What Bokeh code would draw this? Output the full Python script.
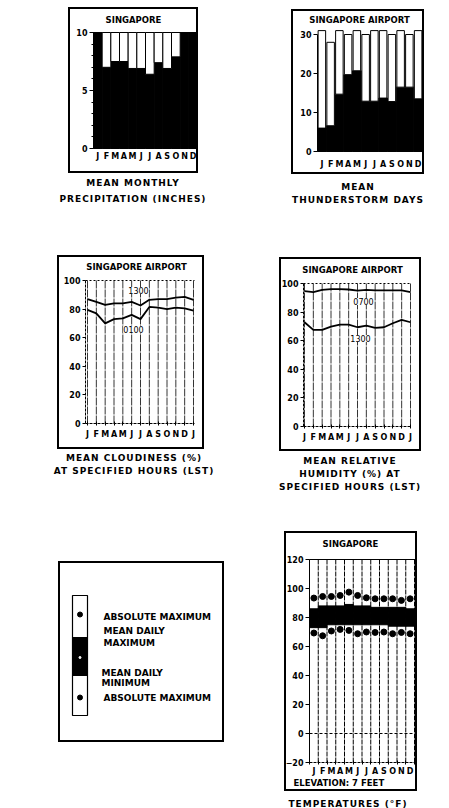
from bokeh.plotting import figure
from bokeh.layouts import row, column
from bokeh.models import Range1d, FixedTicker, Label, Div, Spacer
from bokeh.core.properties import value
from bokeh.embed import file_html
from bokeh.resources import INLINE

# ---------------- data ----------------
months = ["J", "F", "M", "A", "M", "J", "J", "A", "S", "O", "N", "D"]
months_13 = months + ["J"]

precip_in = [10.0, 7.0, 7.5, 7.5, 6.9, 6.9, 6.4, 7.4, 6.9, 7.9, 10.0, 10.0]
precip_scale = [0, 10]
precip_ticks = [0, 5, 10]
precip_minor = [0, 1, 2, 3, 4, 5, 6, 7, 8, 9, 10]

thunder_days = [6, 6.6, 14.7, 19.7, 20.7, 12.9, 12.9, 13.7, 12.8, 16.5, 16.5, 13.5]
days_in_month = [31, 28, 31, 30, 31, 30, 31, 31, 30, 31, 30, 31]
thunder_ticks = [0, 10, 20, 30]

cloud_1300 = [87, 85, 83, 84, 84, 85, 82.5, 86.5, 87, 87, 88, 88.5, 86.5]
cloud_0100 = [79.5, 77, 70, 73, 73.5, 76, 73, 81.5, 81, 80, 81, 80.5, 79]

rh_0700 = [94.6, 94, 95.6, 96, 96, 95.8, 95, 95.6, 95.2, 95.2, 95.2, 95.2, 94]
rh_1300 = [72.9, 67.6, 67.6, 69.9, 71.3, 71.3, 69.4, 70.5, 69, 69.4, 72.2, 74.6, 72.9]
pct_scale = [0, 100]
pct_ticks = [0, 20, 40, 60, 80, 100]

t_abs_max = [93.4, 94.5, 94.5, 95.2, 97.5, 95.2, 93.6, 92.9, 92.9, 92.9, 91.8, 92.9]
t_mean_max = [86, 88, 88, 88, 89, 88, 88, 87, 87, 87, 87, 86]
t_mean_min = [73, 73, 75, 75, 75, 75, 75, 75, 75, 74, 74, 74]
t_abs_min = [69.3, 67.4, 70.7, 71.8, 71.1, 68.8, 70, 69.7, 70, 68.8, 69.7, 68.8]
temp_scale = [-20, 120]
temp_ticks = [-20, 0, 20, 40, 60, 80, 100, 120]

legend_texts = ["ABSOLUTE MAXIMUM", "MEAN DAILY", "MAXIMUM", "MEAN DAILY", "MINIMUM", "ABSOLUTE MAXIMUM"]

# ---------------- helpers ----------------
FONT = "DejaVu Sans"


class Map:
    """linear map between canvas pixels of a panel box and its data values"""

    def __init__(self, sa, va, sb, vb):
        self.k = (vb - va) / (sb - sa)
        self.sa, self.va = sa, va

    def __call__(self, s):
        return self.va + (s - self.sa) * self.k


def box_fig(w, h, mx, my):
    p = figure(width=w, height=h, x_range=Range1d(mx(0), mx(w)), y_range=Range1d(my(h), my(0)),
               output_backend="svg", toolbar_location=None,
               min_border_left=0, min_border_right=0, min_border_top=0, min_border_bottom=0)
    try:
        p.frame_align = False
    except Exception:
        pass
    p.outline_line_color = "black"
    p.outline_line_width = 3
    p.outline_line_alpha = 1
    p.background_fill_color = "white"
    p.border_fill_color = "white"
    p.xgrid.visible = False
    p.ygrid.visible = False
    for ax in (p.xaxis[0], p.yaxis[0]):
        ax.major_label_text_font = FONT
        ax.major_label_text_font_style = "bold"
        ax.major_label_text_font_size = "8px"
        ax.major_label_text_color = "black"
        ax.axis_line_color = "black"
        ax.major_tick_line_color = "black"
        ax.minor_tick_line_color = "black"
        ax.major_tick_in = 0
        ax.minor_tick_in = 0
        ax.minor_tick_out = 0
    return p


def set_yaxis(p, at, ticks, bounds, tick_out, minor=None):
    ax = p.yaxis[0]
    ax.fixed_location = at
    ax.ticker = FixedTicker(ticks=ticks, minor_ticks=minor or [])
    ax.bounds = tuple(bounds)
    ax.major_tick_out = tick_out
    ax.minor_tick_out = 2 if minor else 0
    ax.major_label_standoff = 2


def set_xaxis(p, at, ticks, labels, standoff, bounds, tick=0, minor=None):
    ax = p.xaxis[0]
    ax.fixed_location = at
    ax.ticker = FixedTicker(ticks=ticks, minor_ticks=minor or [])
    ax.major_label_overrides = {t: m for t, m in zip(ticks, labels)}
    ax.major_label_standoff = standoff
    ax.major_tick_in = tick
    ax.major_tick_out = tick
    ax.bounds = tuple(bounds)


def text_label(p, x, y, text, size="8.5px", bold=True, align="center", bg=None):
    p.add_layout(Label(x=x, y=y, text=text, text_align=align, text_baseline="middle",
                       text_font=FONT, text_font_size=size,
                       text_font_style="bold" if bold else "normal",
                       text_color="black", background_fill_color=bg))


def caption(lines, width, lh):
    html = ('<div style="width:%dpx;font-family:\'DejaVu Sans\';font-size:9px;font-weight:bold;'
            'letter-spacing:1px;line-height:%dpx;text-align:center;color:black;'
            'white-space:nowrap;">%s</div>' % (width, lh, "<br>".join(lines)))
    return Div(text=html, width=width, height=lh * len(lines), margin=0)


def sp(w, h):
    return Spacer(width=w, height=h, margin=0)


x12 = list(range(1, 13))
x13 = list(range(0, 13))

# ---------------- 1. precipitation (box 130x166) ----------------
mx1, my1 = Map(25, 0.5, 129, 12.5), Map(25, precip_scale[1], 141, precip_scale[0])
p1 = box_fig(130, 166, mx1, my1)
p1.vbar(x=x12, top=precip_in, bottom=precip_scale[0], width=1, fill_color="black", line_color="black")
p1.vbar(x=x12, top=[precip_scale[1]] * 12, bottom=precip_in, width=1,
        fill_color="white", line_color="black", line_width=1)
set_yaxis(p1, 0.5, precip_ticks, precip_scale, 4, precip_minor)
set_xaxis(p1, precip_scale[0], x12, months, 3, (0.5, 12.5))
p1.xaxis[0].axis_line_color = None
text_label(p1, mx1(65), my1(12), "SINGAPORE")

# ---------------- 2. thunderstorm days (box 133x165) ----------------
mx2, my2 = Map(26, 0.5, 131, 12.5), Map(25, 30, 142, 0)
p2 = box_fig(133, 165, mx2, my2)
p2.vbar(x=x12, top=thunder_days, bottom=0, width=1, fill_color="black", line_color="black")
p2.vbar(x=x12, top=days_in_month, bottom=thunder_days, width=0.86,
        fill_color="white", line_color="black", line_width=1)
set_yaxis(p2, 0.5, thunder_ticks, (thunder_ticks[0], thunder_ticks[-1]), 4)
set_xaxis(p2, 0, x12, months, 8, (0.5, 12.5))
p2.xaxis[0].axis_line_color = None
text_label(p2, mx2(68), my2(10), "SINGAPORE AIRPORT")


# ---------------- 3./4. percentage line charts ----------------
def pct_fig(w, h, mx, my, ax_sx, right_sx):
    p = box_fig(w, h, mx, my)
    x_lo, x_hi = mx(ax_sx), mx(right_sx)
    p.segment(x0=x13, y0=[pct_scale[0]] * 13, x1=x13, y1=[pct_scale[1]] * 13,
              line_color="black", line_width=0.8, line_dash="8 1")
    p.segment(x0=[x_lo], y0=[pct_scale[1]], x1=[x_hi], y1=[pct_scale[1]],
              line_color="black", line_dash="2 2", line_width=1)
    set_yaxis(p, x_lo, pct_ticks, pct_scale, 3)
    p.yaxis[0].axis_line_dash = "3 1"
    set_xaxis(p, pct_scale[0], x13, months_13, 4, (x_lo, x_hi), tick=2)
    p.xaxis[0].axis_line_dash = "3 1"
    return p


mx3, my3 = Map(30, 0, 136, 12), Map(25, 100, 168, 0)
p3 = pct_fig(147, 194, mx3, my3, 28, 137)
p3.line(x13, cloud_1300, line_color="black", line_width=1.8)
p3.line(x13, cloud_0100, line_color="black", line_width=1.8)
text_label(p3, mx3(81), my3(35), "1300", "8px", False, bg="white")
text_label(p3, mx3(76), my3(74), "0100", "8px", False, bg="white")
text_label(p3, mx3(79), my3(11), "SINGAPORE AIRPORT")

mx4, my4 = Map(25, 0, 131, 12), Map(26, 100, 169, 0)
p4 = pct_fig(142, 194, mx4, my4, 24, 132)
p4.line(x13, rh_0700, line_color="black", line_width=1.8)
p4.line(x13, rh_1300, line_color="black", line_width=1.8)
text_label(p4, mx4(84), my4(44), "0700", "8px", False, bg="white")
text_label(p4, mx4(81), my4(81), "1300", "8px", False, bg="white")
text_label(p4, mx4(73), my4(12), "SINGAPORE AIRPORT")

# ---------------- 5. legend (box 166x181) ----------------
p5 = figure(width=166, height=181, x_range=Range1d(0, 166), y_range=Range1d(181, 0),
            output_backend="svg", toolbar_location=None, x_axis_type=None, y_axis_type=None,
            min_border_left=0, min_border_right=0, min_border_top=0, min_border_bottom=0)
try:
    p5.frame_align = False
except Exception:
    pass
p5.outline_line_color = "black"
p5.outline_line_width = 3
p5.outline_line_alpha = 1
p5.xgrid.visible = False
p5.ygrid.visible = False
p5.quad(left=[14], right=[29], top=[34], bottom=[154], fill_color="white",
        line_color="black", line_width=1.2)
p5.quad(left=[14], right=[29], top=[76], bottom=[114], fill_color="black",
        line_color="black", line_width=1)
p5.scatter(x=[21.5, 21.5], y=[53, 136], size=5, color="black")
p5.scatter(x=[21.5], y=[96], size=2, color="white")
p5.text(x=[45, 45, 45, 43, 43, 45], y=[55, 69, 81, 111, 121, 136], text=legend_texts,
        text_font_size="9px", text_baseline="middle", text_align="left",
        text_font_style="bold", text_color="black", text_font=value(FONT))

# ---------------- 6. temperatures (box 133x260) ----------------
mx6, my6 = Map(25, 0.5, 130, 12.5), Map(28, temp_scale[1], 231, temp_scale[0])
p6 = box_fig(133, 260, mx6, my6)
bounds = [i + 0.5 for i in range(13)]
p6.segment(x0=bounds, y0=[temp_scale[0]] * 13, x1=bounds, y1=[temp_scale[1]] * 13,
           line_color="black", line_width=1, line_dash="5 1")
p6.segment(x0=[bounds[0]], y0=[0], x1=[bounds[-1]], y1=[0],
           line_color="black", line_width=1, line_dash="3 2")
p6.segment(x0=[bounds[0]], y0=[temp_scale[1]], x1=[mx6(133)], y1=[temp_scale[1]],
           line_color="black", line_width=1.2)
p6.vbar(x=x12, top=t_mean_max, bottom=t_mean_min, width=1, fill_color="black", line_color="black")
p6.scatter(x=x12, y=t_abs_max, size=6, color="black")
p6.scatter(x=x12, y=t_abs_min, size=6, color="black")
set_yaxis(p6, 0.5, temp_ticks, temp_scale, 4)
set_xaxis(p6, temp_scale[0], x12, months, 2, (0.5, 12.5), tick=0, minor=bounds)
p6.xaxis[0].minor_tick_in = 2
p6.xaxis[0].minor_tick_out = 2
p6.xaxis[0].axis_line_dash = "3 1"
text_label(p6, mx6(66), my6(12), "SINGAPORE")
text_label(p6, mx6(9), my6(251), "ELEVATION: 7 FEET", "8.5px", True, align="left")

# ---------------- layout ----------------
left_col = column(
    sp(1, 7),
    row(sp(68, 166), p1),
    sp(1, 2),
    row(sp(43, 32), caption(["MEAN MONTHLY", "PRECIPITATION (INCHES)"], 180, 16)),
    sp(1, 48),
    row(sp(57, 194), p3),
    sp(1, 3),
    row(sp(44, 26), caption(["MEAN CLOUDINESS (%)", "AT SPECIFIED HOURS (LST)"], 180, 13)),
    sp(1, 83),
    row(sp(58, 181), p5),
)
right_col = column(
    sp(1, 9),
    row(sp(63, 165), p2),
    sp(1, 7),
    row(sp(40, 26), caption(["MEAN", "THUNDERSTORM DAYS"], 180, 13)),
    sp(1, 50),
    row(sp(51, 194), p4),
    sp(1, 4),
    row(sp(32, 39), caption(["MEAN RELATIVE", "HUMIDITY (%) AT", "SPECIFIED HOURS (LST)"], 180, 13)),
    sp(1, 37),
    row(sp(56, 260), p6),
    sp(1, 4),
    row(sp(30, 12), caption(["TEMPERATURES (°F)"], 180, 12)),
)
layout = row(column(left_col, width=228), right_col)
open("out.html", "w").write(file_html(layout, INLINE))
